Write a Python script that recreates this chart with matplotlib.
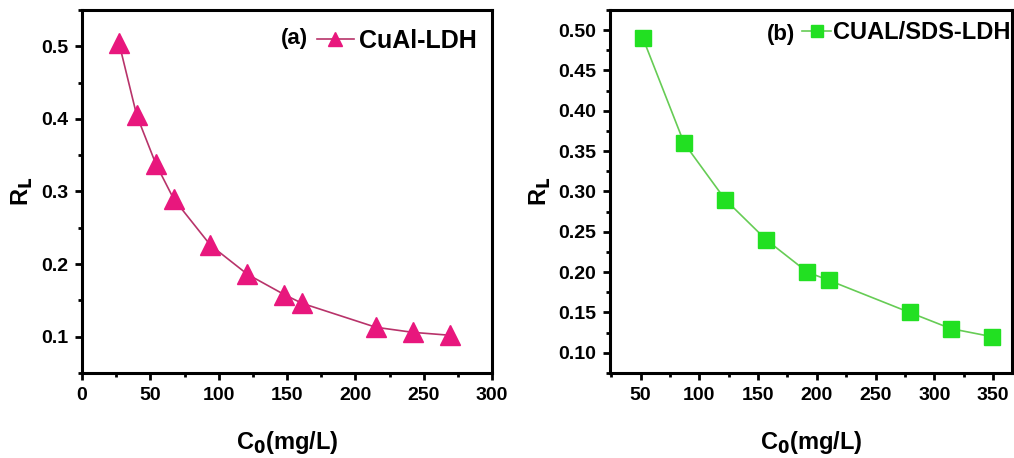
import matplotlib
matplotlib.use("Agg")
import matplotlib.pyplot as plt
from matplotlib.ticker import MultipleLocator, FormatStrFormatter

plt.rcParams['font.family'] = ['Liberation Sans', 'DejaVu Sans']
plt.rcParams['font.weight'] = 'bold'

# (a) CuAl-LDH
c0_a = [27, 40, 54, 67, 94, 121, 148, 161, 215, 242, 269]
rl_a = [0.505, 0.405, 0.338, 0.290, 0.226, 0.186, 0.158, 0.146, 0.113, 0.106, 0.102]
label_a = "CuAl-LDH"

# (b) CUAL/SDS-LDH
c0_b = [52, 87, 122, 157, 192, 210, 279, 314, 349]
rl_b = [0.49, 0.36, 0.29, 0.24, 0.20, 0.19, 0.15, 0.13, 0.12]
label_b = "CUAL/SDS-LDH"

fig = plt.figure(figsize=(10.14, 4.58), dpi=100)
ax1 = fig.add_axes([0.0809, 0.1856, 0.4043, 0.7926])
ax2 = fig.add_axes([0.6016, 0.1856, 0.3964, 0.7926])


def style(ax):
    for s in ax.spines.values():
        s.set_linewidth(2.2)
    ax.tick_params(which='major', direction='out', length=5, width=2, labelsize=14, pad=5)
    ax.tick_params(which='minor', direction='out', length=3, width=2)
    for lab in ax.get_xticklabels() + ax.get_yticklabels():
        lab.set_fontweight('bold')
    ax.set_xlabel("C$_\\mathbf{0}$(mg/L)", fontsize=17, fontweight='bold', labelpad=18)
    ax.set_ylabel("R$_\\mathbf{L}$", fontsize=17, fontweight='bold', labelpad=4)


# panel a
ax1.plot(c0_a, rl_a, color='#b8336a', lw=1.2, marker='^', markersize=14,
         markerfacecolor='#e8177d', markeredgecolor='#e8177d', label=label_a)
ax1.set_xlim(0, 300)
ax1.set_ylim(0.05, 0.55)
ax1.xaxis.set_major_locator(MultipleLocator(50))
ax1.xaxis.set_minor_locator(MultipleLocator(25))
ax1.yaxis.set_major_locator(MultipleLocator(0.1))
ax1.yaxis.set_minor_locator(MultipleLocator(0.05))
ax1.set_xticks([0, 50, 100, 150, 200, 250, 300])
ax1.set_xticklabels(['0', '50', '100', '150', '200', '250', '300'])
style(ax1)
ax1.legend(loc='upper right', bbox_to_anchor=(1.0, 0.99), frameon=False,
           handlelength=1.5, handletextpad=0.2, borderaxespad=0.2,
           prop={'weight': 'bold', 'size': 18}, markerscale=0.75)
ax1.text(0.485, 0.922, "(a)", transform=ax1.transAxes, fontsize=16,
         fontweight='bold', va='center')

# panel b
ax2.plot(c0_b, rl_b, color='#66cc55', lw=1.2, marker='s', markersize=12,
         markerfacecolor='#22e022', markeredgecolor='#22e022', label=label_b)
ax2.set_xlim(24, 366)
ax2.set_ylim(0.075, 0.525)
ax2.xaxis.set_major_locator(MultipleLocator(50))
ax2.xaxis.set_minor_locator(MultipleLocator(25))
ax2.yaxis.set_major_locator(MultipleLocator(0.05))
ax2.yaxis.set_minor_locator(MultipleLocator(0.025))
ax2.yaxis.set_major_formatter(FormatStrFormatter('%.2f'))
style(ax2)
ax2.legend(loc='upper right', bbox_to_anchor=(1.02, 0.995), frameon=False,
           handlelength=1.2, handletextpad=0.1, borderaxespad=0.0,
           prop={'weight': 'bold', 'size': 17}, markerscale=0.7)
ax2.text(0.39, 0.932, "(b)", transform=ax2.transAxes, fontsize=16,
         fontweight='bold', va='center')

fig.savefig("out.png", dpi=100)
